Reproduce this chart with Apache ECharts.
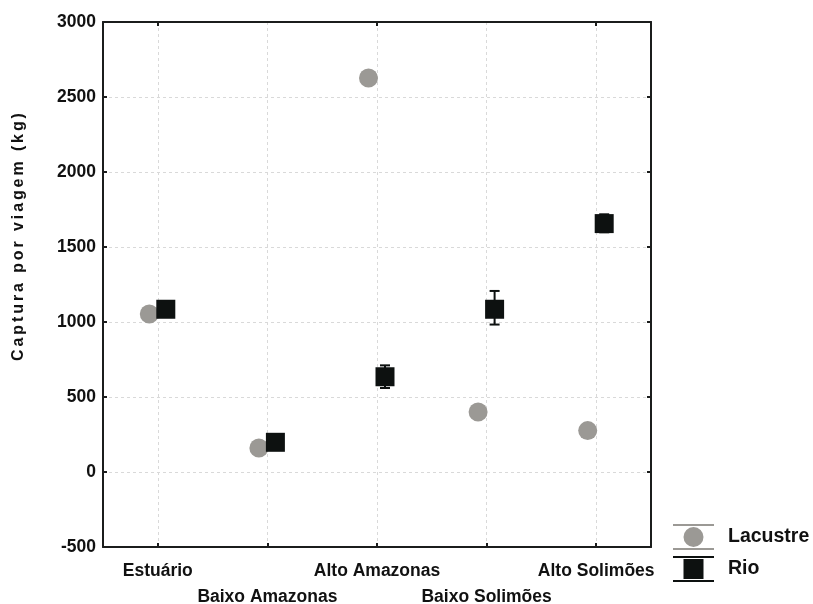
<!DOCTYPE html>
<html>
<head>
<meta charset="utf-8">
<script src="https://cdn.jsdelivr.net/npm/echarts@6/dist/echarts.min.js"></script>
<style>
  html, body { margin: 0; padding: 0; background: #ffffff; }
  #chart { width: 813px; height: 604px; }
</style>
</head>
<body>
<div id="chart"></div>
<script>
// Regions along the river (x categories)
const regions = ['Estuário', 'Baixo Amazonas', 'Alto Amazonas', 'Baixo Solimões', 'Alto Solimões'];

// Mean catch per trip (kg) by habitat
const lacustre = [1053, 160, 2627, 400, 276];
const rio = [1085, 198, 635, 1085, 1656];

// Error bar limits for the river series
const rioLow = [1045, 170, 560, 983, 1598];
const rioHigh = [1125, 226, 711, 1207, 1718];

// Y axis ticks
const yMin = -500;
const yMax = 3000;
const yStep = 500;

const yTitle = 'Captura por viagem (kg)';

const GRAY = '#9b9995';
const BLACK = '#0d1110';
const AXIS = '#1b1d1c';
const FONT = 'Liberation Sans, Arial, sans-serif';

const lacOffset = -8.5;
const rioOffset = 8;

// Legend icons: whisker caps around the marker
const lacIcon = 'path://M0 0H41V2H0Z M0 24H41V26H0Z M10.5 13A10 10 0 1 0 30.5 13A10 10 0 1 0 10.5 13Z';
const rioIcon = 'path://M0 0H41V2H0Z M0 24H41V26H0Z M10.5 3H30.5V23H10.5Z';

const chart = echarts.init(document.getElementById('chart'), null, { renderer: 'canvas' });

const errData = regions.map((r, i) => [i, rioLow[i], rioHigh[i]]);

const splitStyle = { color: '#d9d9d9', width: 1, type: [3, 3] };

// Axis title drawn as one rich-text run with a little tracking between letters
const trackedTitle = yTitle.split('').map((c) => '{s|' + c + '}').join('');

chart.setOption({
  animation: false,
  backgroundColor: '#ffffff',
  grid: { left: 103, right: 162, top: 22, bottom: 57, containLabel: false, outerBoundsMode: 'none' },
  xAxis: [
    {
      type: 'category',
      data: regions,
      boundaryGap: true,
      position: 'bottom',
      axisLine: { show: true, onZero: false, lineStyle: { color: AXIS, width: 2 } },
      axisTick: { show: true, inside: true, alignWithLabel: true, length: 4, lineStyle: { color: AXIS, width: 2 } },
      splitLine: { show: true, alignWithLabel: true, lineStyle: splitStyle },
      axisLabel: {
        margin: 11,
        color: '#111',
        fontFamily: FONT,
        fontWeight: 'bold',
        fontSize: 17.5,
        lineHeight: 26,
        interval: 0,
        hideOverlap: false,
        formatter: (v, i) => (i % 2 === 1 ? '\n' + v : v)
      }
    },
    {
      type: 'category',
      data: regions,
      boundaryGap: true,
      position: 'top',
      axisLine: { show: true, onZero: false, lineStyle: { color: AXIS, width: 2 } },
      axisTick: { show: true, inside: true, alignWithLabel: true, length: 4, lineStyle: { color: AXIS, width: 2 } },
      splitLine: { show: false },
      axisLabel: { show: false }
    }
  ],
  yAxis: [
    {
      type: 'value',
      min: yMin,
      max: yMax,
      interval: yStep,
      position: 'left',
      axisLine: { show: true, onZero: false, lineStyle: { color: AXIS, width: 2 } },
      axisTick: { show: true, inside: true, length: 4, lineStyle: { color: AXIS, width: 2 } },
      splitLine: { show: true, lineStyle: splitStyle },
      axisLabel: {
        margin: 7,
        color: '#111',
        fontFamily: FONT,
        fontWeight: 'bold',
        fontSize: 17.5,
        formatter: (v) => String(v)
      }
    },
    {
      type: 'value',
      min: yMin,
      max: yMax,
      interval: yStep,
      position: 'right',
      axisLine: { show: true, onZero: false, lineStyle: { color: AXIS, width: 2 } },
      axisTick: { show: true, inside: true, length: 4, lineStyle: { color: AXIS, width: 2 } },
      splitLine: { show: false },
      axisLabel: { show: false }
    }
  ],
  legend: {
    orient: 'vertical',
    left: 673,
    top: 524,
    padding: 0,
    itemWidth: 41,
    itemHeight: 26,
    itemGap: 6,
    textStyle: {
      color: '#111',
      fontFamily: FONT,
      fontWeight: 'bold',
      fontSize: 19.5,
      padding: [0, 0, 0, 9]
    },
    data: [
      { name: 'Lacustre', icon: lacIcon },
      { name: 'Rio', icon: rioIcon }
    ]
  },
  graphic: [
    {
      type: 'text',
      x: 19,
      y: 237,
      rotation: Math.PI / 2,
      style: {
        text: trackedTitle,
        align: 'center',
        verticalAlign: 'middle',
        rich: {
          s: {
            fill: '#111',
            color: '#111',
            fontFamily: FONT,
            fontWeight: 'bold',
            fontSize: 16,
            padding: [0, 1.45]
          }
        }
      }
    }
  ],
  series: [
    {
      name: 'Lacustre',
      type: 'scatter',
      xAxisIndex: 0,
      yAxisIndex: 0,
      symbol: 'circle',
      symbolSize: 19,
      symbolOffset: [lacOffset, 0],
      itemStyle: { color: GRAY, opacity: 1 },
      data: lacustre,
      z: 3
    },
    {
      name: 'Rio',
      type: 'custom',
      xAxisIndex: 0,
      yAxisIndex: 0,
      data: errData,
      renderItem: function (params, api) {
        const x = api.coord([api.value(0), 0])[0] + rioOffset;
        const yLo = api.coord([api.value(0), api.value(1)])[1];
        const yHi = api.coord([api.value(0), api.value(2)])[1];
        const cap = 5;
        const st = { stroke: BLACK, lineWidth: 2 };
        return {
          type: 'group',
          children: [
            { type: 'line', shape: { x1: x, y1: yLo, x2: x, y2: yHi }, style: st },
            { type: 'line', shape: { x1: x - cap, y1: yLo, x2: x + cap, y2: yLo }, style: st },
            { type: 'line', shape: { x1: x - cap, y1: yHi, x2: x + cap, y2: yHi }, style: st }
          ]
        };
      },
      itemStyle: { color: BLACK },
      z: 4
    },
    {
      name: 'Rio',
      type: 'scatter',
      xAxisIndex: 0,
      yAxisIndex: 0,
      symbol: 'rect',
      symbolSize: 19,
      symbolOffset: [rioOffset, 0],
      itemStyle: { color: BLACK, opacity: 1 },
      data: rio,
      z: 5
    }
  ]
});
</script>
</body>
</html>
